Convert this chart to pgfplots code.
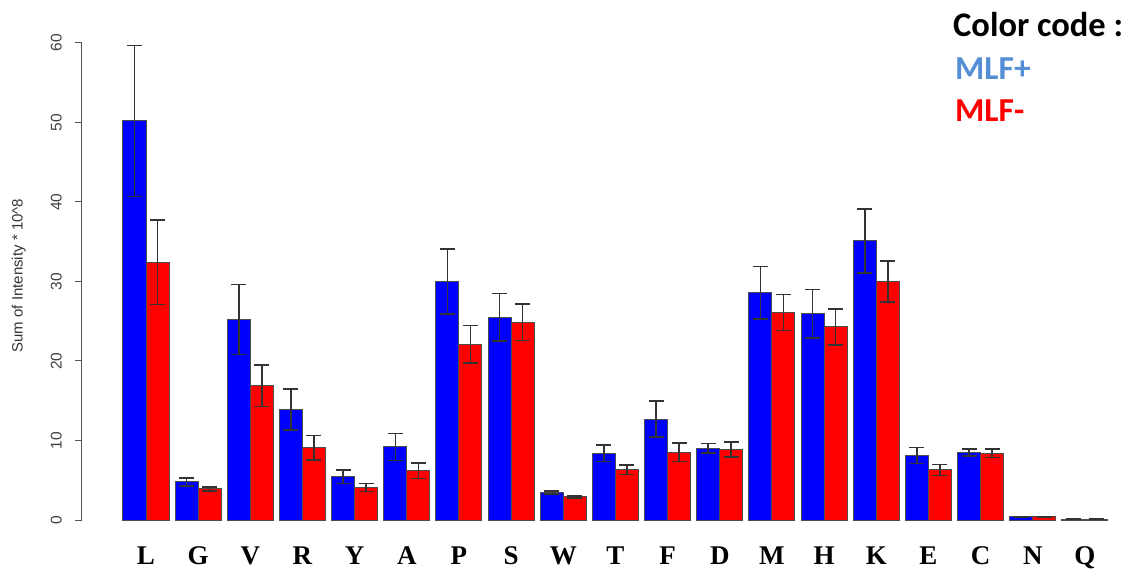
\documentclass[border=0pt]{standalone}
\usepackage{pgfplots}
\usepackage{pgfplotstable}
\pgfplotsset{compat=1.18}
\usepackage{fontspec}
\setmainfont{Liberation Sans}
\newfontfamily\serifb{Liberation Serif}
\newfontfamily\calib{Carlito}
\definecolor{barblue}{HTML}{0000FF}
\definecolor{barred}{HTML}{FF0000}
\definecolor{mlfblue}{HTML}{558ED5}
\definecolor{axgray}{HTML}{555555}

\pgfplotstableread{
x lab b be r re
0 L 50.2 9.5 32.4 5.3
1 G 4.8 0.5 3.9 0.25
2 V 25.2 4.4 16.9 2.6
3 R 13.9 2.6 9.1 1.55
4 Y 5.45 0.85 4.1 0.5
5 A 9.2 1.7 6.2 1.0
6 P 30.0 4.1 22.1 2.35
7 S 25.5 3.0 24.9 2.3
8 W 3.45 0.2 2.9 0.1
9 T 8.4 1.05 6.3 0.6
10 F 12.7 2.25 8.5 1.15
11 D 9.0 0.6 8.85 0.95
12 M 28.6 3.3 26.1 2.25
13 H 25.95 3.05 24.3 2.25
14 K 35.1 4.0 30.0 2.55
15 E 8.1 1.0 6.3 0.7
16 C 8.5 0.45 8.4 0.55
17 N 0.4 0 0.4 0
18 Q 0.1 0 0.1 0
}\data

\begin{document}
\begin{tikzpicture}
\useasboundingbox (0,0) rectangle (1133pt,568pt);
\begin{axis}[
  at={(82pt,48pt)}, anchor=south west,
  scale only axis, width=1029pt, height=477pt,
  xmin=-1.227, xmax=18.5, ymin=0, ymax=60,
  ybar, bar width=0.441,
  clip=false,
  axis lines*=left,
  x axis line style={draw=none},
  y axis line style={axgray, line width=1pt},
  xtick=data,
  xticklabels from table={\data}{lab},
  xtick style={draw=none},
  xticklabel style={anchor=base, inner sep=0pt, yshift=-37pt, font=\serifb\bfseries\fontsize{27}{27}\selectfont},
  ytick={0,10,...,60},
  ytick style={axgray, line width=1pt},
  tick align=outside,
  major tick length=7pt,
  yticklabel style={rotate=90, anchor=south, inner sep=0pt, font=\fontsize{15.5}{15.5}\selectfont, text=black!75},
  yticklabel shift=13pt,
  /pgf/number format/assume math mode=true,
  ylabel={Sum of Intensity * 10\^{}8},
  ylabel style={at={(axis description cs:-0.0615,0.512)}, anchor=center, rotate=0, font=\fontsize{15}{15}\selectfont, text=black!80},
]
\addplot[fill=barblue, draw=black!70, line width=1pt, bar shift=-0.2205,
  error bars/.cd, y dir=both, y explicit,
  error bar style={draw=black!80, line width=1.6pt},
  error mark options={rotate=90, mark size=7.5pt, line width=1.6pt, draw=black!80}]
  table[x=x, y=b, y error=be] {\data};
\addplot[fill=barred, draw=black!70, line width=1pt, bar shift=0.2205,
  error bars/.cd, y dir=both, y explicit,
  error bar style={draw=black!80, line width=1.6pt},
  error mark options={rotate=90, mark size=7.5pt, line width=1.6pt, draw=black!80}]
  table[x=x, y=r, y error=re] {\data};
\end{axis}
\node[anchor=base west, inner sep=0pt, font=\calib\bfseries\fontsize{34.5}{34.5}\selectfont] at (953pt,531pt) {Color code :};
\node[anchor=base west, inner sep=0pt, font=\calib\bfseries\fontsize{33.5}{33.5}\selectfont, text=mlfblue] at (955pt,488pt) {MLF+};
\node[anchor=base west, inner sep=0pt, font=\calib\bfseries\fontsize{33.5}{33.5}\selectfont, text=barred] at (955pt,446pt) {MLF-};
\end{tikzpicture}
\end{document}
